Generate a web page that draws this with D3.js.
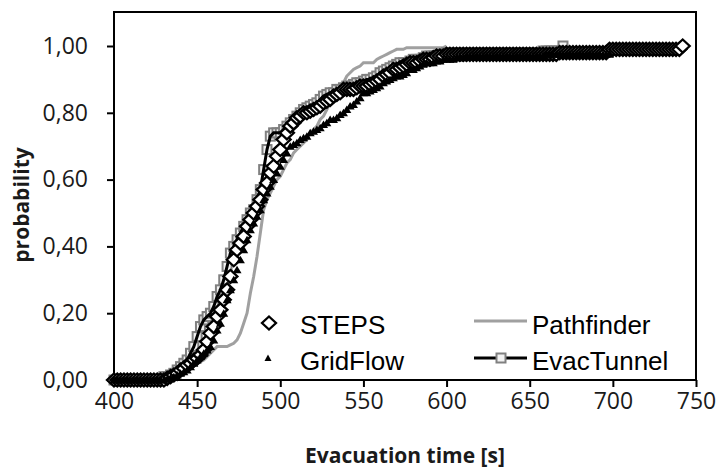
<!DOCTYPE html>
<html>
<head>
<meta charset="utf-8">
<script src="https://cdn.jsdelivr.net/npm/d3@7"></script>
<style>
  body { margin: 0; background: #fff; }
  svg { display: block; }
</style>
</head>
<body>
<div id="chart"></div>
<script>
// sampling times [s], every 2 s
var times = [400,402,404,406,408,410,412,414,416,418,420,422,424,426,428,
  430,432,434,436,438,440,442,444,446,448,
  450,452,454,456,458,460,462,464,466,468,
  470,472,474,476,478,480,482,484,486,488,
  490,492,494,496,498,500,502,504,506,508,
  510,512,514,516,518,520,522,524,526,528,
  530,532,534,536,538,540,542,544,546,548,
  550,552,554,556,558,560,562,564,566,568,
  570,572,574,576,578,580,582,584,586,588,
  590,592,594,596,598,
  600,602,604,606,608,610,612,614,616,618,
  620,622,624,626,628,630,632,634,636,638,
  640,642,644,646,648,650,652,654,656,658,
  660,662,664,666,668,670,672,674,676,678,
  680,682,684,686,688,690,692,694,696,698,
  700,702,704,706,708,710,712,714,716,718,
  720,722,724,726,728,730,732,734,736,738,
  740,742];

var steps = [0,0,0,0,0,0,0,0,0,0,0,0,0,0,0,
  0,0.005,0.01,0.015,0.02,0.03,0.035,0.045,0.05,0.06,
  0.065,0.075,0.09,0.115,0.14,0.16,0.19,0.21,0.24,0.27,
  0.31,0.36,0.39,0.41,0.43,0.46,0.48,0.50,0.52,0.54,
  0.57,0.59,0.62,0.64,0.67,0.69,0.72,0.74,0.76,0.77,
  0.785,0.79,0.80,0.80,0.805,0.81,0.815,0.82,0.83,0.835,
  0.84,0.85,0.855,0.86,0.87,0.87,0.87,0.87,0.875,0.88,
  0.88,0.88,0.885,0.89,0.895,0.90,0.91,0.915,0.92,0.93,
  0.93,0.935,0.94,0.945,0.95,0.95,0.95,0.955,0.96,0.96,
  0.96,0.965,0.97,0.97,0.97,
  0.975,0.975,0.975,0.975,0.975,0.975,0.975,0.975,0.975,0.975,
  0.975,0.975,0.975,0.975,0.975,0.975,0.975,0.975,0.975,0.975,
  0.975,0.975,0.975,0.975,0.975,0.975,0.975,0.975,0.975,0.975,
  0.975,0.975,0.975,0.975,0.98,0.98,0.98,0.98,0.98,0.98,
  0.98,0.98,0.98,0.98,0.98,0.98,0.98,0.98,0.98,0.99,
  0.99,0.99,0.99,0.99,0.99,0.99,0.99,0.99,0.99,0.99,
  0.99,0.99,0.99,0.99,0.99,0.99,0.99,0.99,0.99,0.99,
  0.99,1.00];

var gridflow = [0,0,0,0,0,0,0,0,0,0,0,0,0,0,0,
  0,0.003,0.006,0.01,0.015,0.02,0.025,0.03,0.04,0.05,
  0.06,0.07,0.08,0.09,0.10,0.12,0.15,0.17,0.20,0.24,
  0.27,0.30,0.33,0.36,0.39,0.42,0.45,0.47,0.49,0.51,
  0.54,0.56,0.58,0.60,0.62,0.64,0.66,0.68,0.70,0.705,
  0.71,0.72,0.725,0.73,0.74,0.745,0.75,0.755,0.765,0.77,
  0.78,0.78,0.785,0.795,0.80,0.81,0.82,0.825,0.835,0.845,
  0.86,0.86,0.865,0.87,0.875,0.88,0.89,0.895,0.90,0.905,
  0.91,0.91,0.915,0.92,0.93,0.93,0.935,0.94,0.945,0.95,
  0.95,0.95,0.955,0.955,0.96,
  0.96,0.96,0.96,0.965,0.965,0.965,0.97,0.97,0.97,0.97,
  0.97,0.97,0.97,0.97,0.97,0.97,0.97,0.97,0.97,0.97,
  0.97,0.97,0.97,0.97,0.97,0.97,0.97,0.97,0.97,0.97,
  0.975,0.975,0.975,0.975,0.975,0.975,0.975,0.975,0.975,0.975,
  0.975,0.975,0.975,0.975,0.975,0.975,0.975,0.975,0.975,0.975,
  null,null,null,null,null,null,null,null,null,null,
  null,null,null,null,null,null,null,null,null,null,
  null,null];

var pathfinder = [null,null,null,null,null,null,null,null,null,null,null,null,null,null,null,
  0,0.003,0.006,0.01,0.015,0.02,0.025,0.03,0.035,0.04,
  0.05,0.055,0.06,0.07,0.08,0.09,0.10,0.10,0.10,0.10,
  0.105,0.11,0.12,0.14,0.17,0.20,0.26,0.31,0.37,0.44,
  0.51,0.54,0.56,0.58,0.60,0.61,0.63,0.65,0.66,0.68,
  0.69,0.70,0.71,0.72,0.74,0.75,0.76,0.78,0.79,0.81,
  0.83,0.85,0.86,0.88,0.89,0.91,0.92,0.93,0.935,0.94,
  0.95,0.95,0.95,0.95,0.96,0.965,0.97,0.975,0.98,0.985,
  0.99,0.99,0.99,0.995,0.995,0.995,0.995,0.995,0.995,0.995,
  0.995,0.995,0.995,0.995,0.995,
  1.00,null,null,null,null,null,null,null,null,null,
  null,null,null,null,null,null,null,null,null,null,
  null,null,null,null,null,null,null,null,null,null,
  null,null,null,null,null,null,null,null,null,null,
  null,null,null,null,null,null,null,null,null,null,
  null,null,null,null,null,null,null,null,null,null,
  null,null,null,null,null,null,null,null,null,null,
  null,null];

var evactunnel = [0,0,0,0,0,0,0,0,0,0,0,0,0,0,0,
  0.01,0.01,0.015,0.02,0.03,0.04,0.05,0.06,0.08,0.10,
  0.13,0.16,0.18,0.19,0.20,0.22,0.25,0.27,0.30,0.34,
  0.38,0.40,0.42,0.44,0.46,0.48,0.50,0.51,0.54,0.57,
  0.63,0.69,0.73,0.74,0.74,0.74,0.75,0.76,0.77,0.78,
  0.79,0.80,0.81,0.815,0.82,0.825,0.83,0.84,0.85,0.855,
  0.86,0.86,0.87,0.87,0.875,0.88,0.88,0.885,0.89,0.89,
  0.895,0.90,0.90,0.905,0.91,0.92,0.925,0.93,0.935,0.94,
  0.945,0.95,0.95,0.95,0.955,0.96,0.96,0.96,0.965,0.97,
  0.97,0.97,0.97,0.975,0.975,
  0.98,0.98,0.98,0.98,0.98,0.98,0.98,0.98,0.98,0.98,
  0.98,0.98,0.98,0.98,0.98,0.98,0.98,0.98,0.98,0.98,
  0.98,0.98,0.98,0.98,0.98,0.98,0.98,0.98,0.98,0.985,
  0.985,0.985,0.985,0.985,0.985,1.00,null,null,null,null,
  null,null,null,null,null,null,null,null,null,null,
  null,null,null,null,null,null,null,null,null,null,
  null,null,null,null,null,null,null,null,null,null,
  null,null];

var xTicks = [400,450,500,550,600,650,700,750];
var yTicks = [0,0.2,0.4,0.6,0.8,1.0];

var width = 718, height = 471;
var margin = {left: 114, right: 22, top: 12, bottom: 91};

var svg = d3.select("#chart").append("svg")
  .attr("width", width)
  .attr("height", height);

var x = d3.scaleLinear().domain([400, 750]).range([margin.left, width - margin.right]);
var y = d3.scaleLinear().domain([0, 1]).range([height - margin.bottom, height - margin.bottom - 334]);

function pts(vals) {
  return times.map(function(t, i) { return {t: t, p: vals[i]}; })
    .filter(function(d) { return d.p !== null && d.p !== undefined; });
}

var line = d3.line()
  .x(function(d) { return x(d.t); })
  .y(function(d) { return y(d.p); });

// axes
var fmt = function(d) { return d3.format(".2f")(d).replace(".", ","); };

var gx = svg.append("g")
  .attr("transform", "translate(0," + y(0) + ")")
  .call(d3.axisBottom(x).tickValues(xTicks).tickSize(7).tickPadding(6));
gx.select(".domain").remove();
gx.selectAll(".tick line").attr("stroke", "#000").attr("stroke-width", 2);
gx.selectAll(".tick text")
  .attr("font-family", "Open Sans")
  .attr("font-size", 23)
  .attr("fill", "#1a1a1a");

var gy = svg.append("g")
  .attr("transform", "translate(" + x(400) + ",0)")
  .call(d3.axisLeft(y).tickValues(yTicks).tickFormat(fmt).tickSize(7).tickPadding(19));
gy.select(".domain").remove();
gy.selectAll(".tick line").attr("stroke", "#000").attr("stroke-width", 2);
gy.selectAll(".tick text")
  .attr("font-family", "Open Sans")
  .attr("font-size", 23)
  .attr("fill", "#1a1a1a");

// frame
svg.append("rect")
  .attr("x", x(400))
  .attr("y", margin.top)
  .attr("width", x(750) - x(400))
  .attr("height", y(0) - margin.top)
  .attr("fill", "none")
  .attr("stroke", "#000")
  .attr("stroke-width", 2);

// Pathfinder
svg.append("path")
  .datum(pts(pathfinder))
  .attr("d", line)
  .attr("fill", "none")
  .attr("stroke", "#a0a0a0")
  .attr("stroke-width", 3);

// EvacTunnel
var evac = pts(evactunnel);
svg.append("g").selectAll("rect")
  .data(evac)
  .enter().append("rect")
  .attr("x", function(d) { return x(d.t) - 4.5; })
  .attr("y", function(d) { return y(d.p) - 4.5; })
  .attr("width", 9)
  .attr("height", 9)
  .attr("fill", "#f2f2f2")
  .attr("stroke", "#808080")
  .attr("stroke-width", 2);
svg.append("path")
  .datum(evac)
  .attr("d", line)
  .attr("fill", "none")
  .attr("stroke", "#000")
  .attr("stroke-width", 3);

// STEPS diamonds
var diamond = "M0,-6.5L7,0L0,6.5L-7,0Z";
svg.append("g").selectAll("path")
  .data(pts(steps))
  .enter().append("path")
  .attr("d", diamond)
  .attr("transform", function(d) { return "translate(" + x(d.t) + "," + y(d.p) + ")"; })
  .attr("fill", "#fff")
  .attr("stroke", "#000")
  .attr("stroke-width", 2.3);

// GridFlow triangles
var tri = "M0,-4L4.5,3.5L-4.5,3.5Z";
svg.append("g").selectAll("path")
  .data(pts(gridflow))
  .enter().append("path")
  .attr("d", tri)
  .attr("transform", function(d) { return "translate(" + x(d.t) + "," + y(d.p) + ")"; })
  .attr("fill", "#000");

// legend
var lg = svg.append("g")
  .attr("font-family", "Liberation Sans, Arial, sans-serif")
  .attr("font-size", 26)
  .attr("fill", "#000");

lg.append("path").attr("d", diamond)
  .attr("transform", "translate(269,323)")
  .attr("fill", "#fff").attr("stroke", "#000").attr("stroke-width", 2.3);
lg.append("text").attr("x", 300).attr("y", 334).text("STEPS");

lg.append("path").attr("d", "M0,-3.5L3.5,3L-3.5,3Z")
  .attr("transform", "translate(268,358)")
  .attr("fill", "#000");
lg.append("text").attr("x", 300).attr("y", 370).text("GridFlow");

lg.append("line")
  .attr("x1", 474).attr("x2", 527).attr("y1", 321).attr("y2", 321)
  .attr("stroke", "#a0a0a0").attr("stroke-width", 3);
lg.append("text").attr("x", 532).attr("y", 334).text("Pathfinder");

lg.append("line")
  .attr("x1", 474).attr("x2", 527).attr("y1", 358).attr("y2", 358)
  .attr("stroke", "#000").attr("stroke-width", 3);
lg.append("rect")
  .attr("x", 496.5).attr("y", 353.5).attr("width", 9).attr("height", 9)
  .attr("fill", "#f2f2f2").attr("stroke", "#808080").attr("stroke-width", 2);
lg.append("text").attr("x", 532).attr("y", 370).text("EvacTunnel");

// axis titles
svg.append("text")
  .attr("x", (x(400) + x(750)) / 2)
  .attr("y", 463)
  .attr("text-anchor", "middle")
  .attr("font-family", "Open Sans")
  .attr("font-weight", "bold")
  .attr("font-size", 21)
  .attr("fill", "#1a1a1a")
  .text("Evacuation time [s]");

svg.append("text")
  .attr("transform", "translate(29,205) rotate(-90)")
  .attr("text-anchor", "middle")
  .attr("font-family", "Open Sans")
  .attr("font-weight", "bold")
  .attr("font-size", 21)
  .attr("fill", "#1a1a1a")
  .text("probability");
</script>
</body>
</html>
